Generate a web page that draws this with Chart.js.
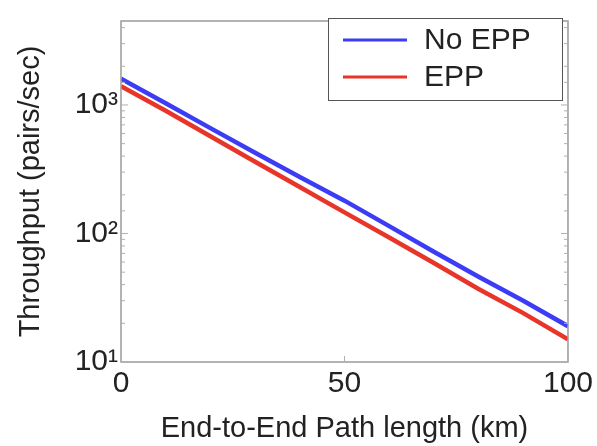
<!DOCTYPE html>
<html>
<head>
<meta charset="utf-8">
<script src="https://cdn.jsdelivr.net/npm/chart.js@4/dist/chart.umd.min.js"></script>
<style>
  html, body { margin: 0; padding: 0; background: #fff; }
  #wrap { width: 597px; height: 446px; position: relative; }
</style>
</head>
<body>
<div id="wrap"><canvas id="tputChart"></canvas></div>
<script>
// 데이터
const pathKm = [0, 10, 20, 30, 40, 50, 60, 70, 80, 90, 100];
const noEpp = [1600, 1030, 660, 425, 275, 180, 114, 72, 46, 30, 19];
const epp = [1400, 900, 570, 362, 230, 146, 93, 59, 37, 24, 15];
const seriesNames = ["No EPP", "EPP"];
const xTicks = [0, 50, 100];
const yMajor = [10, 100, 1000];
const yLabels = { 10: "10\u00b9", 100: "10\u00b2", 1000: "10\u00b3" };

const FONT = "'Liberation Sans', Arial, sans-serif";
const TEXT = "#222";

// 축 테두리, 안쪽 눈금, 범례 박스 그리기
const framePlugin = {
  id: "frame",
  afterDatasetsDraw(chart) {
    const ctx = chart.ctx;
    const a = chart.chartArea;
    const x = chart.scales.x;
    const y = chart.scales.y;
    ctx.save();
    ctx.strokeStyle = "#9a9a9a";
    ctx.lineWidth = 1.5;
    ctx.strokeRect(a.left, a.top, a.right - a.left, a.bottom - a.top);

    // y 눈금 (로그 보조 눈금 포함)
    ctx.lineWidth = 1;
    ctx.strokeStyle = "#b0b0b0";
    y.ticks.forEach(function (t) {
      const py = y.getPixelForValue(t.value);
      const len = yMajor.includes(t.value) ? 7 : 4;
      ctx.beginPath();
      ctx.moveTo(a.left, py); ctx.lineTo(a.left + len, py);
      ctx.moveTo(a.right, py); ctx.lineTo(a.right - len, py);
      ctx.stroke();
    });
    // x 눈금
    x.ticks.forEach(function (t) {
      const px = x.getPixelForValue(t.value);
      ctx.beginPath();
      ctx.moveTo(px, a.bottom); ctx.lineTo(px, a.bottom - 6);
      ctx.moveTo(px, a.top); ctx.lineTo(px, a.top + 6);
      ctx.stroke();
    });

    // 범례
    const bx = 328, by = 18, bw = 234, bh = 82;
    ctx.fillStyle = "#fff";
    ctx.fillRect(bx, by, bw, bh);
    ctx.strokeStyle = "#555";
    ctx.lineWidth = 1;
    ctx.strokeRect(bx + 0.5, by + 0.5, bw, bh);
    ctx.font = "30px " + FONT;
    ctx.textBaseline = "middle";
    chart.data.datasets.forEach(function (ds, i) {
      const ly = by + 22 + i * 37;
      ctx.strokeStyle = ds.borderColor;
      ctx.lineWidth = 3;
      ctx.beginPath();
      ctx.moveTo(bx + 15, ly); ctx.lineTo(bx + 79, ly);
      ctx.stroke();
      ctx.fillStyle = TEXT;
      ctx.fillText(ds.label, bx + 96, ly + 1);
    });
    ctx.restore();
  },
};

const chartCanvas = document.getElementById("tputChart");

new Chart(chartCanvas, {
  type: "line",
  data: {
    datasets: [
      {
        label: seriesNames[0],
        data: pathKm.map(function (k, i) { return { x: k, y: noEpp[i] }; }),
        borderColor: "#3c3cf5",
        borderWidth: 4.5,
        pointRadius: 0,
        tension: 0,
      },
      {
        label: seriesNames[1],
        data: pathKm.map(function (k, i) { return { x: k, y: epp[i] }; }),
        borderColor: "#e8352a",
        borderWidth: 4.5,
        pointRadius: 0,
        tension: 0,
      },
    ],
  },
  options: {
    responsive: true,
    maintainAspectRatio: false,
    animation: false,
    layout: { padding: { left: 14, top: 13, right: 29, bottom: 0 } },
    plugins: {
      legend: { display: false },
      tooltip: { enabled: false },
    },
    scales: {
      x: {
        type: "linear",
        min: 0,
        max: 100,
        afterBuildTicks: function (scale) {
          scale.ticks = xTicks.map(function (v) { return { value: v }; });
        },
        grid: { display: false, drawTicks: false },
        border: { display: false },
        ticks: {
          color: TEXT,
          font: { family: FONT, size: 30 },
          padding: 4,
          maxRotation: 0,
        },
        title: {
          display: true,
          text: "End-to-End Path length (km)",
          color: TEXT,
          font: { family: FONT, size: 29 },
          padding: { top: 0, bottom: 0 },
        },
        afterFit: function (scale) { scale.height = 84; },
      },
      y: {
        type: "logarithmic",
        min: 10,
        max: 4500,
        grid: { display: false, drawTicks: false },
        border: { display: false },
        ticks: {
          color: TEXT,
          font: { family: FONT, size: 30 },
          padding: 3,
          autoSkip: false,
          callback: function (v) {
            return yLabels[v] || "";
          },
        },
        title: {
          display: true,
          text: "Throughput (pairs/sec)",
          color: TEXT,
          font: { family: FONT, size: 29 },
          padding: { top: 0, bottom: 0 },
        },
        afterFit: function (scale) { scale.width = 107; },
      },
    },
  },
  plugins: [framePlugin],
});
</script>
</body>
</html>
